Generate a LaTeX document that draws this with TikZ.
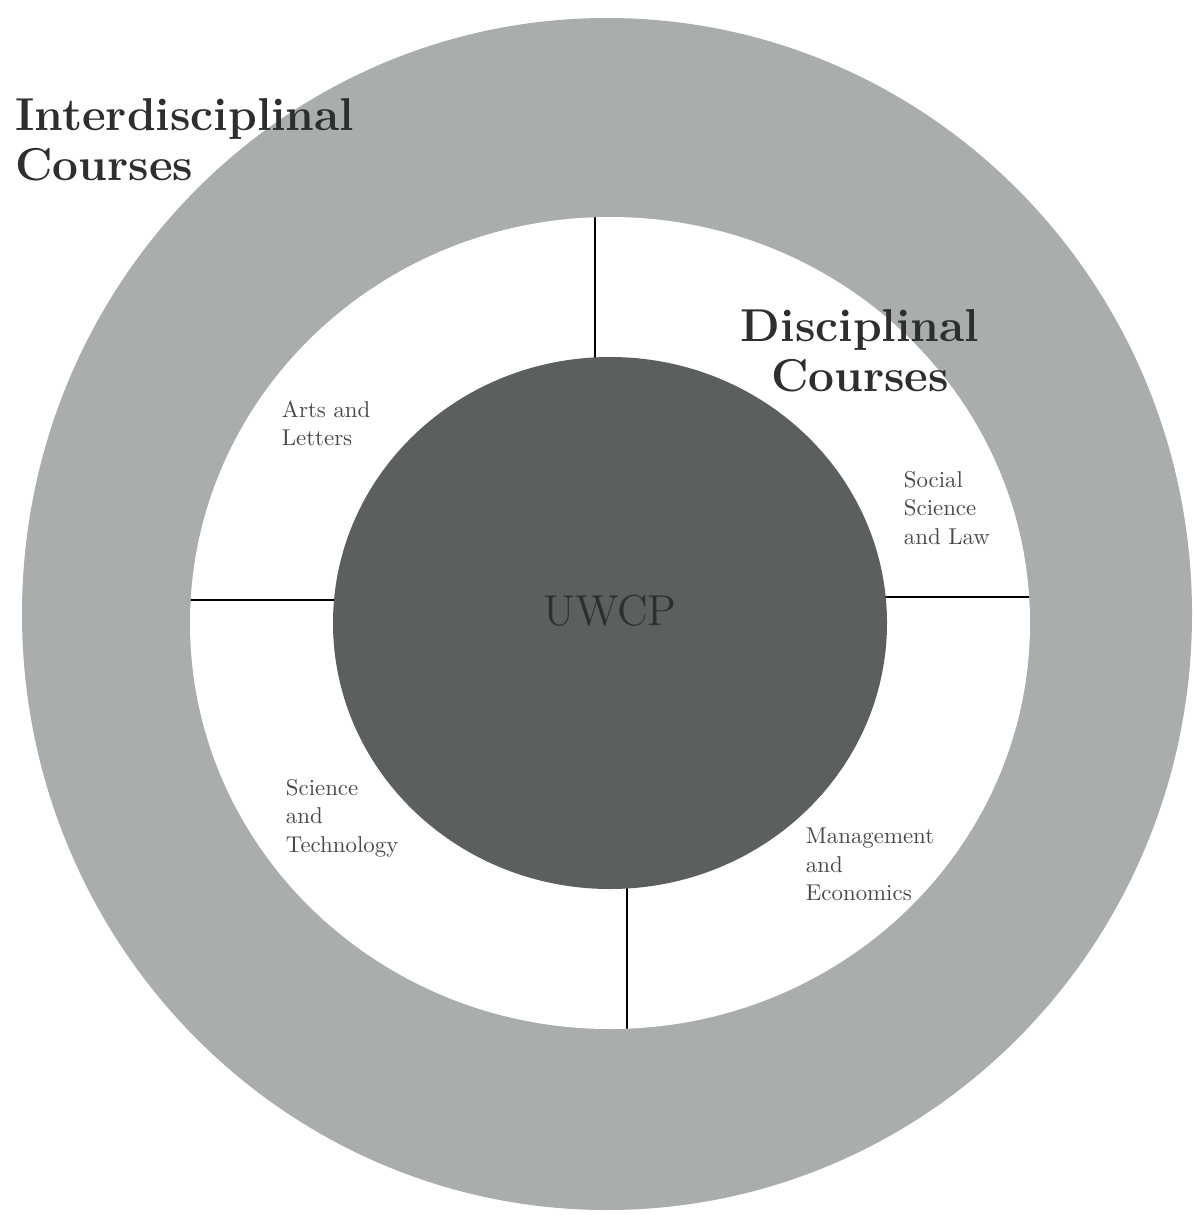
\documentclass[tikz,border=0pt]{standalone}
\usepackage{xcolor}

\definecolor{ringgray}{RGB}{170,173,173}
\definecolor{coregray}{RGB}{92,95,95}
\definecolor{inkgray}{RGB}{45,47,47}
\definecolor{fieldgray}{RGB}{72,74,74}

\begin{document}
\begin{tikzpicture}[%
        x = 0.01cm, y = -0.01cm,
        line width = 0.8pt,
        line cap = round,
        heading/.style = {inner sep = 0pt, text = inkgray,
            font = \fontsize{13.1}{14.2}\selectfont\bfseries},
        field/.style = {inner sep = 0pt, align = left, anchor = north west,
            text = fieldgray, scale = 0.65, transform shape,
            font = \fontsize{10}{12.5}\selectfont}
    ]

        % Fix the page to the size of the scan.
        \useasboundingbox[fill = white] (0, 0) rectangle (1195, 1215);

        % Outer ring and the white ring inside it.
        \fill[ringgray] (607, 614) ellipse [x radius = 585, y radius = 596];
        \fill[white] (610, 623) ellipse [x radius = 420, y radius = 406];

        % Four dividers, kept inside the white ring.
        \begin{scope}
            \clip (610, 623) ellipse [x radius = 420, y radius = 406];
            \draw (595, 150) to (595, 450);
            \draw (150, 600) to (450, 600);
            \draw (780, 597) to (1080, 597);
            \draw (627, 800) to (627, 1080);
        \end{scope}

        % The core.
        \fill[coregray] (610, 623) ellipse [x radius = 277, y radius = 266];

        % Headings for the two rings.
        \node[heading, align = left, anchor = north west] (inter) at (14, 97)
            {Interdisciplinal\\Courses};
        \node[heading, align = center, anchor = north] (disc) at (860, 308)
            {Disciplinal\\Courses};

        % Names of the four fields.
        \node[field] (arts) at (281, 400) {Arts and\\Letters};
        \node[field] (social) at (903, 470) {Social\\Science\\and Law};
        \node[field] (scitech) at (285, 778) {Science\\and\\Technology};
        \node[field] (mgmt) at (805, 827) {Management\\and\\Economics};

        \node[inner sep = 0pt, anchor = base, text = inkgray,
            font = \fontsize{12.3}{14}\selectfont] (uwcp) at (610, 625) {UWCP};
    \end{tikzpicture}
\end{document}
